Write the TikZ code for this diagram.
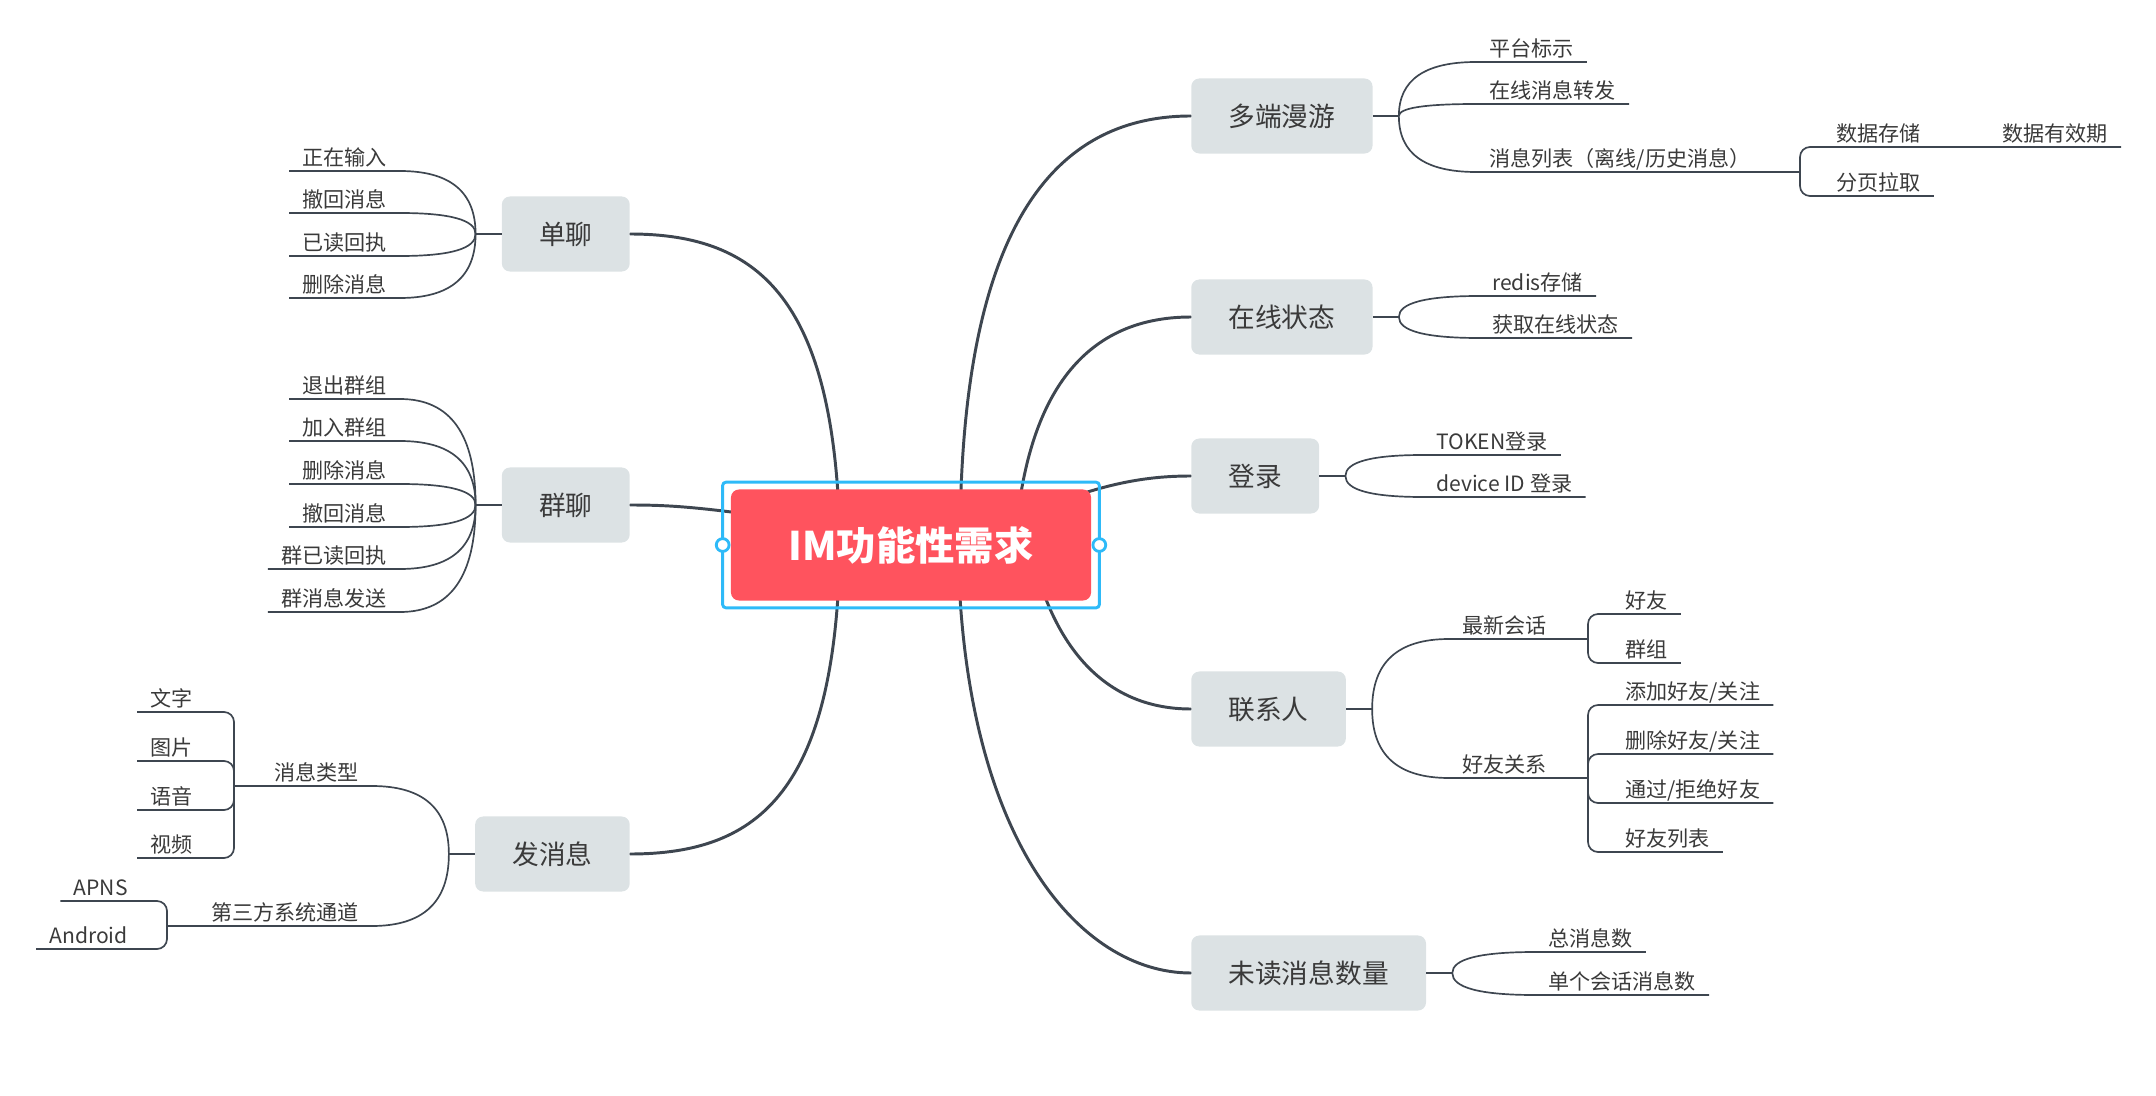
\documentclass[tikz,border=0pt]{standalone}
\usepackage{fontspec}
\newfontfamily\cjk{Noto Sans CJK SC}
\usetikzlibrary{calc,backgrounds}
\definecolor{rootred}{RGB}{255,83,94}
\definecolor{selblue}{RGB}{46,186,248}
\definecolor{topicfill}{RGB}{220,226,228}
\definecolor{ink}{RGB}{58,58,58}
\definecolor{wire}{RGB}{62,70,80}

\begin{document}
\begin{tikzpicture}[x=0.025cm,y=-0.025cm,root/.style={fill=rootred,rounded corners=0.2cm,minimum width=9cm,minimum height=2.775cm,inner sep=0pt,text=white,font=\cjk\bfseries\fontsize{28pt}{34pt}\selectfont},topic/.style={fill=topicfill,rounded corners=0.2cm,minimum height=1.875cm,inner xsep=0.93cm,inner ysep=0pt,text=ink,font=\cjk\fontsize{19pt}{23pt}\selectfont},leaf/.style={inner xsep=0.325cm,inner ysep=0pt,text height=1em,text depth=0.4em,text=ink,font=\cjk\fontsize{15pt}{18pt}\selectfont},rleaf/.style={leaf,anchor=south west},lleaf/.style={leaf,anchor=south east},limb/.style={draw=wire,line width=2.1pt,line cap=round},stub/.style={draw=wire,line width=1.5pt},twig/.style={draw=wire,line width=1.2pt},brace/.style={twig,rounded corners=0.25cm},selframe/.style={draw=selblue,line width=2.1pt,rounded corners=0.08cm},handle/.style={draw=selblue,fill=white,line width=2pt},fanout/.style={to path={.. controls ($(\tikztostart)!0.667!(\tikztostart |- \tikztotarget)$) and ($(\tikztotarget)!0.667!(\tikztostart |- \tikztotarget)$) .. (\tikztotarget)}}]
\useasboundingbox (0,0) rectangle (2156,1096);
\node[root] (n0) at (911,545) {IM功能性需求};
\draw[selframe] ([xshift=-0.2cm,yshift=0.175cm]n0.north west) rectangle ([xshift=0.2cm,yshift=-0.175cm]n0.south east);
\draw[handle] ([xshift=-0.2cm]n0.west) circle (0.16cm);
\draw[handle] ([xshift=0.2cm]n0.east) circle (0.16cm);
\node[topic,anchor=west] (n1) at (1191,116) {多端漫游};
\node[topic,anchor=west] (n2) at (1191,317) {在线状态};
\node[topic,anchor=west] (n3) at (1191,476) {登录};
\node[topic,anchor=west] (n4) at (1191,709) {联系人};
\node[topic,anchor=west] (n5) at (1191,973) {未读消息数量};
\node[topic,anchor=east] (n6) at (630,234) {单聊};
\node[topic,anchor=east] (n7) at (630,505) {群聊};
\node[topic,anchor=east] (n8) at (630,854) {发消息};
\node[rleaf] (n9) at (1476,62) {平台标示};
\node[rleaf] (n10) at (1476,104) {在线消息转发};
\node[rleaf] (n11) at (1476,172) {消息列表（离线/历史消息）};
\node[rleaf] (n12) at (1823,147) {数据存储};
\node[rleaf] (n13) at (1989,147) {数据有效期};
\node[rleaf] (n14) at (1823,196) {分页拉取};
\node[rleaf] (n15) at (1479,296) {redis存储};
\node[rleaf] (n16) at (1479,338) {获取在线状态};
\node[rleaf] (n17) at (1423,455) {TOKEN登录};
\node[rleaf] (n18) at (1423,497) {device ID 登录};
\node[rleaf] (n19) at (1449,639) {最新会话};
\node[rleaf] (n20) at (1449,778) {好友关系};
\node[rleaf] (n21) at (1612,614) {好友};
\node[rleaf] (n22) at (1612,663) {群组};
\node[rleaf] (n23) at (1612,705) {添加好友/关注};
\node[rleaf] (n24) at (1612,754) {删除好友/关注};
\node[rleaf] (n25) at (1612,803) {通过/拒绝好友};
\node[rleaf] (n26) at (1612,852) {好友列表};
\node[rleaf] (n27) at (1535,952) {总消息数};
\node[rleaf] (n28) at (1535,995) {单个会话消息数};
\node[lleaf] (n29) at (400,171) {正在输入};
\node[lleaf] (n30) at (400,213) {撤回消息};
\node[lleaf] (n31) at (400,256) {已读回执};
\node[lleaf] (n32) at (400,298) {删除消息};
\node[lleaf] (n33) at (400,399) {退出群组};
\node[lleaf] (n34) at (400,441) {加入群组};
\node[lleaf] (n35) at (400,484) {删除消息};
\node[lleaf] (n36) at (400,527) {撤回消息};
\node[lleaf] (n37) at (400,569) {群已读回执};
\node[lleaf] (n38) at (400,612) {群消息发送};
\node[lleaf] (n39) at (372,786) {消息类型};
\node[lleaf] (n40) at (372,926) {第三方系统通道};
\node[lleaf] (n41) at (206,712) {文字};
\node[lleaf] (n42) at (206,761) {图片};
\node[lleaf] (n43) at (206,810) {语音};
\node[lleaf] (n44) at (206,858) {视频};
\node[lleaf] (n45) at (141,901) {APNS};
\node[lleaf] (n46) at (141,949) {Android};
\coordinate (b1) at (1800,172);
\coordinate (b2) at (1588,639);
\coordinate (b3) at (1588,778);
\coordinate (b4) at (234,786);
\coordinate (b5) at (167,926);
\begin{scope}[on background layer]
\draw[limb] ($(n0.center)+(49,0)$) .. controls (960,250) and (1040,116) .. (n1.west);
\draw[limb] ($(n0.center)+(104,0)$) .. controls (1025,400) and (1080,317) .. (n2.west);
\draw[limb] ($(n0.center)+(139,-40)$) .. controls (1110,482) and (1150,476) .. (n3.west);
\draw[limb] ($(n0.center)+(119,0)$) .. controls (1050,640) and (1100,709) .. (n4.west);
\draw[limb] ($(n0.center)+(47,0)$) .. controls (962,840) and (1080,973) .. (n5.west);
\draw[limb] ($(n0.center)+(-71,0)$) .. controls (836,300) and (760,234) .. (n6.east);
\draw[limb] ($(n0.center)+(-121,-25)$) .. controls (700,507) and (670,505) .. (n7.east);
\draw[limb] ($(n0.center)+(-71,0)$) .. controls (836,790) and (760,854) .. (n8.east);
\end{scope}
\draw[stub] (n1.east) -- ++(26,0) coordinate (j1);
\draw[stub] (n2.east) -- ++(26,0) coordinate (j2);
\draw[stub] (n3.east) -- ++(26,0) coordinate (j3);
\draw[stub] (n4.east) -- ++(26,0) coordinate (j4);
\draw[stub] (n5.east) -- ++(26,0) coordinate (j5);
\draw[stub] (n6.west) -- ++(-26,0) coordinate (j6);
\draw[stub] (n7.west) -- ++(-26,0) coordinate (j7);
\draw[stub] (n8.west) -- ++(-26,0) coordinate (j8);
\draw[twig] (j1) to[fanout] (n9.south west) -- (n9.south east);
\draw[twig] (j1) to[fanout] (n10.south west) -- (n10.south east);
\draw[twig] (j1) to[fanout] (n11.south west) -- (b1);
\draw[brace] (b1) |- (n12.south west) -- (n12.south east) -- (n13.south west) -- (n13.south east);
\draw[brace] (b1) |- (n14.south west) -- (n14.south east);
\draw[twig] (j2) to[fanout] (n15.south west) -- (n15.south east);
\draw[twig] (j2) to[fanout] (n16.south west) -- (n16.south east);
\draw[twig] (j3) to[fanout] (n17.south west) -- (n17.south east);
\draw[twig] (j3) to[fanout] (n18.south west) -- (n18.south east);
\draw[twig] (j4) to[fanout] (n19.south west) -- (b2);
\draw[twig] (j4) to[fanout] (n20.south west) -- (b3);
\draw[brace] (b2) |- (n21.south west) -- (n21.south east);
\draw[brace] (b2) |- (n22.south west) -- (n22.south east);
\draw[brace] (b3) |- (n23.south west) -- (n23.south east);
\draw[brace] (b3) |- (n24.south west) -- (n24.south east);
\draw[brace] (b3) |- (n25.south west) -- (n25.south east);
\draw[brace] (b3) |- (n26.south west) -- (n26.south east);
\draw[twig] (j5) to[fanout] (n27.south west) -- (n27.south east);
\draw[twig] (j5) to[fanout] (n28.south west) -- (n28.south east);
\draw[twig] (j6) to[fanout] (n29.south east) -- (n29.south west);
\draw[twig] (j6) to[fanout] (n30.south east) -- (n30.south west);
\draw[twig] (j6) to[fanout] (n31.south east) -- (n31.south west);
\draw[twig] (j6) to[fanout] (n32.south east) -- (n32.south west);
\draw[twig] (j7) to[fanout] (n33.south east) -- (n33.south west);
\draw[twig] (j7) to[fanout] (n34.south east) -- (n34.south west);
\draw[twig] (j7) to[fanout] (n35.south east) -- (n35.south west);
\draw[twig] (j7) to[fanout] (n36.south east) -- (n36.south west);
\draw[twig] (j7) to[fanout] (n37.south east) -- (n37.south west);
\draw[twig] (j7) to[fanout] (n38.south east) -- (n38.south west);
\draw[twig] (j8) to[fanout] (n39.south east) -- (b4);
\draw[twig] (j8) to[fanout] (n40.south east) -- (b5);
\draw[brace] (b4) |- (n41.south east) -- (n41.south west);
\draw[brace] (b4) |- (n42.south east) -- (n42.south west);
\draw[brace] (b4) |- (n43.south east) -- (n43.south west);
\draw[brace] (b4) |- (n44.south east) -- (n44.south west);
\draw[brace] (b5) |- (n45.south east) -- (n45.south west);
\draw[brace] (b5) |- (n46.south east) -- (n46.south west);
\end{tikzpicture}
\end{document}
